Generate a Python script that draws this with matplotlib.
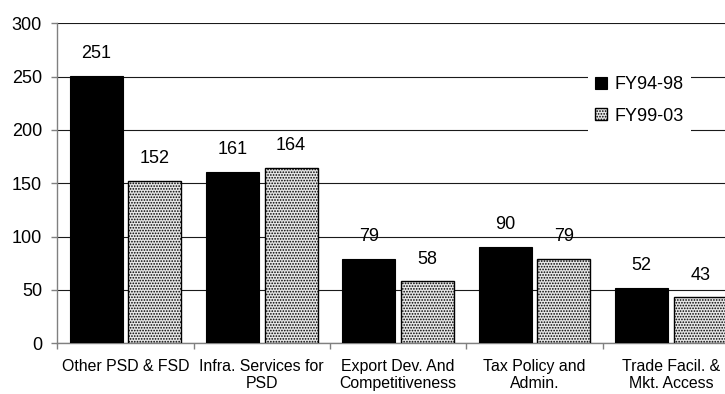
import matplotlib
matplotlib.use("Agg")
import matplotlib.pyplot as plt
from matplotlib import font_manager
import numpy as np

categories = ["Other PSD & FSD", "Infra. Services for\nPSD", "Export Dev. And\nCompetitiveness",
              "Tax Policy and\nAdmin.", "Trade Facil. &\nMkt. Access"]
fy94_98 = [251, 161, 79, 90, 52]
fy99_03 = [152, 164, 58, 79, 43]
series_names = ["FY94-98", "FY99-03"]

names = {f.name for f in font_manager.fontManager.ttflist}
base_font = "Liberation Sans" if "Liberation Sans" in names else "DejaVu Sans"

plt.rcParams["font.family"] = [base_font, "DejaVu Sans"]
plt.rcParams["hatch.linewidth"] = 0.8
plt.rcParams["hatch.color"] = "#222222"

fig = plt.figure(figsize=(7.25, 3.94), dpi=100)
ax = fig.add_axes([57.3 / 725, 1 - 343.3 / 394, (739 - 57.3) / 725, 320 / 394])

x = np.arange(len(categories))
w = 0.39
off = 0.215
b1 = ax.bar(x - off, fy94_98, w, color="black", edgecolor="black", linewidth=0.8,
            label=series_names[0], zorder=3)
b2 = ax.bar(x + off, fy99_03, w, color="#e6e6e6", edgecolor="black", linewidth=1.0,
            hatch="......", label=series_names[1], zorder=3)

for bars, vals in ((b1, fy94_98), (b2, fy99_03)):
    for rect, v in zip(bars, vals):
        ax.annotate(str(v), (rect.get_x() + rect.get_width() / 2, v),
                    xytext=(0, 10), textcoords="offset points",
                    ha="center", va="bottom", fontsize=13)

ax.set_ylim(0, 300)
ax.set_yticks(range(0, 301, 50))
ax.set_xlim(-0.5, len(categories) - 0.5)
ax.yaxis.grid(True, color="#1a1a1a", linewidth=0.8, zorder=0)
ax.set_axisbelow(True)

# category names sit between boundary ticks (minor ticks at the half positions)
ax.set_xticks(x)
ax.set_xticklabels(categories, fontsize=11.4, linespacing=1.2)
ax.set_xticks(np.arange(-0.5, len(categories)), minor=True)
ax.tick_params(axis="x", which="major", length=0, pad=11)
ax.tick_params(axis="x", which="minor", length=4, color="#808080", width=1)
ax.tick_params(axis="y", length=4, color="#808080", width=1, labelsize=13, pad=7)

for s in ("top", "right"):
    ax.spines[s].set_visible(False)
for s in ("left", "bottom"):
    ax.spines[s].set_color("#808080")
    ax.spines[s].set_linewidth(1)

leg = ax.legend(loc="upper left", bbox_to_anchor=(588 / 725, 1 - 69 / 394),
                bbox_transform=fig.transFigure, fontsize=13, frameon=True,
                fancybox=False, edgecolor="none", facecolor="white", framealpha=1,
                borderaxespad=0, borderpad=0.4, handlelength=0.65, handleheight=0.65,
                handletextpad=0.4, labelspacing=0.8)

fig.savefig("out.png", dpi=100)
